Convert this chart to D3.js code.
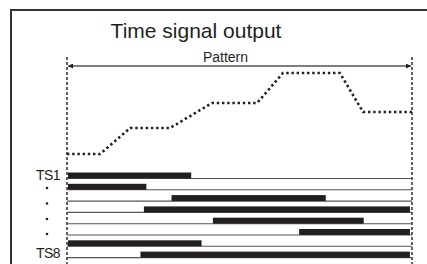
<!DOCTYPE html>
<html><head><meta charset="utf-8">
<script src="https://cdn.jsdelivr.net/npm/d3@7/dist/d3.min.js"></script>
<style>html,body{margin:0;padding:0;background:#fff;}svg{display:block;}</style>
</head><body>
<script>
// ---- data ----
const title = "Time signal output";
const patternLabel = "Pattern";
const signals = ["TS1", "TS2", "TS3", "TS4", "TS5", "TS6", "TS7", "TS8"];
const visibleLabels = ["TS1", "", "", "", "", "", "", "TS8"];
const barStart = [0, 0, 30, 22, 42, 67, 0, 21];
const barEnd   = [36, 23, 75, 99.4, 86, 99.4, 39, 99.4];
const curveTime  = [0, 9.6, 18.3, 29.9, 42, 55.1, 62.6, 79.1, 85.8, 100];
const curveLevel = [0, 0, 26, 26, 51, 51, 81, 81, 42, 42];

// ---- layout ----
const W = 427, H = 264;
const ink = "#231f20";
const svg = d3.select("body").append("svg").attr("width", W).attr("height", H);

const x = d3.scaleLinear().domain([0, 100]).range([67, 412]);
const yLevel = d3.scaleLinear().domain([0, 100]).range([154, 54]);
const yRow = d3.scaleBand().domain(signals).range([167.2, 257.6]).paddingInner(0).paddingOuter(0);
const barH = 6;

// frame
svg.append("rect").attr("x", 11).attr("y", 10).attr("width", 440).attr("height", 300)
  .attr("fill", "none").attr("stroke", "#333").attr("stroke-width", 2);

// title
svg.append("text").attr("x", 196).attr("y", 38).attr("text-anchor", "middle")
  .attr("font-family", "Liberation Sans, Arial, sans-serif").attr("font-size", 21)
  .attr("fill", ink).text(title);
svg.append("text").attr("x", 225.5).attr("y", 62).attr("text-anchor", "middle")
  .attr("font-family", "Liberation Sans, Arial, sans-serif").attr("font-size", 14)
  .attr("fill", ink).text(patternLabel);

// arrow markers
const defs = svg.append("defs");
defs.append("marker").attr("id", "ah").attr("viewBox", "0 0 10 10").attr("refX", 10).attr("refY", 5)
  .attr("markerWidth", 8).attr("markerHeight", 5).attr("markerUnits", "userSpaceOnUse")
  .attr("orient", "auto-start-reverse")
  .append("path").attr("d", "M0,0 L10,5 L0,10 Z").attr("fill", ink);
svg.append("line").attr("x1", x(0) + 1).attr("x2", x(100) - 1).attr("y1", 66).attr("y2", 66)
  .attr("stroke", "#555").attr("stroke-width", 1.3)
  .attr("marker-start", "url(#ah)").attr("marker-end", "url(#ah)");

// pattern boundaries
[0, 100].forEach(t => {
  svg.append("line").attr("x1", x(t)).attr("x2", x(t)).attr("y1", 57).attr("y2", H)
    .attr("stroke", ink).attr("stroke-width", 1.4).attr("stroke-dasharray", "3,2");
});

// dotted level curve
const pts = curveTime.map((t, i) => [t, curveLevel[i]]);
svg.append("path").datum(pts)
  .attr("d", d3.line().x(d => x(d[0])).y(d => yLevel(d[1])))
  .attr("fill", "none").attr("stroke", ink).attr("stroke-width", 2.6)
  .attr("stroke-dasharray", "2.4,2.8");

// signal rows
signals.forEach((s, i) => {
  const base = yRow(s) + yRow.bandwidth();
  svg.append("line").attr("x1", x(0)).attr("x2", x(100)).attr("y1", base).attr("y2", base)
    .attr("stroke", "#555").attr("stroke-width", 1.1);
  svg.append("rect").attr("x", x(barStart[i]) + 1).attr("y", base - barH)
    .attr("width", x(barEnd[i]) - x(barStart[i]) - 1).attr("height", barH).attr("fill", ink);
});

// labels
signals.forEach((s, i) => {
  const base = yRow(s) + yRow.bandwidth();
  if (visibleLabels[i]) {
    svg.append("text").attr("x", 60).attr("y", i === 0 ? 180 : 258).attr("text-anchor", "end")
      .attr("font-family", "Liberation Sans, Arial, sans-serif").attr("font-size", 14)
      .attr("letter-spacing", -0.6).attr("fill", ink).text(visibleLabels[i]);
  }
});
const dotY = [188, 203.5, 219, 234];
dotY.forEach(yy => svg.append("circle").attr("cx", 47).attr("cy", yy).attr("r", 1.3).attr("fill", ink));
</script>
</body></html>
